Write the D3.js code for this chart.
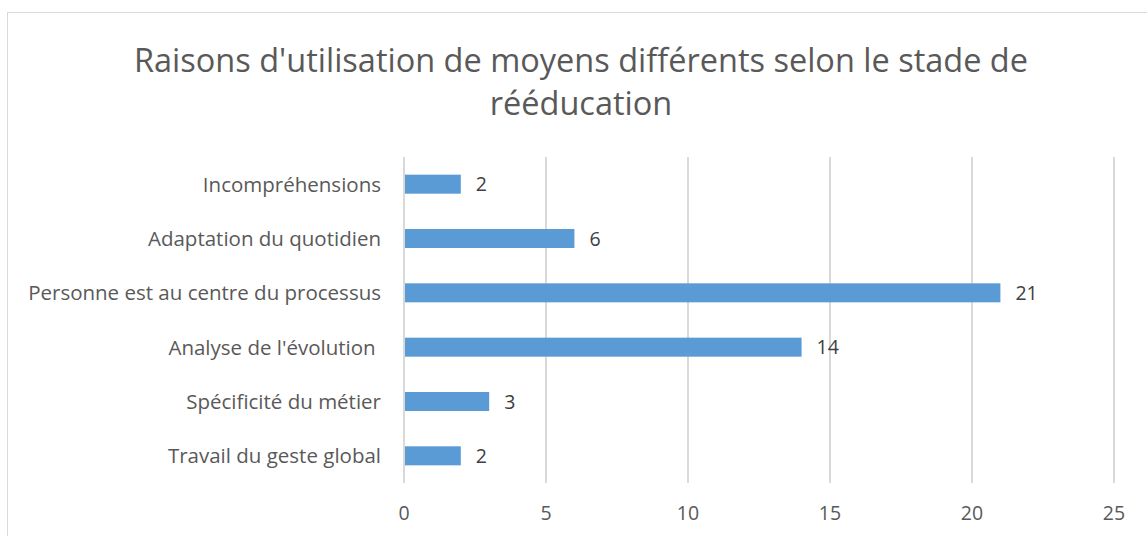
<!DOCTYPE html>
<html><head><meta charset="utf-8">
<script src="https://cdn.jsdelivr.net/npm/d3@7"></script>
<style>
body{margin:0;background:#fff;}
text{font-family:"Open Sans",sans-serif;}
</style></head>
<body><svg id="c" width="1147" height="536"></svg>
<script>
const categories = ["Incompréhensions","Adaptation du quotidien","Personne est au centre du processus","Analyse de l'évolution ","Spécificité du métier","Travail du geste global"];
const values = [2,6,21,14,3,2];
const ticks = [0,5,10,15,20,25];
const titleLines = ["Raisons d'utilisation de moyens différents selon le stade de","rééducation"];

const svg = d3.select("#c");
svg.append("rect").attr("x",7.5).attr("y",12.5).attr("width",1145).attr("height",530)
  .attr("fill","#fff").attr("stroke","#d9d9d9").attr("stroke-width",1);

const x = d3.scaleLinear().domain([0,25]).range([404,1114]);
const y = d3.scaleBand().domain(categories).range([157,483]).paddingInner(0.65).paddingOuter(0.325);

svg.append("g").selectAll("line").data(ticks).join("line")
  .attr("x1",d=>x(d)).attr("x2",d=>x(d)).attr("y1",157).attr("y2",483)
  .attr("stroke","#d9d9d9").attr("stroke-width",2);

svg.append("g").selectAll("rect").data(values).join("rect")
  .attr("x",x(0)+1).attr("y",(d,i)=>y(categories[i]))
  .attr("width",d=>x(d)-x(0)-1).attr("height",y.bandwidth())
  .attr("fill","#5b9bd5");

svg.append("g").selectAll("text").data(values).join("text")
  .attr("x",d=>x(d)+15).attr("y",(d,i)=>y(categories[i])+y.bandwidth()/2)
  .attr("dy","0.36em").attr("font-size",19.5).attr("fill","#404040").text(d=>d);

svg.append("g").selectAll("text").data(categories).join("text")
  .attr("x",381).attr("y",d=>y(d)+y.bandwidth()/2).attr("dy","0.36em")
  .attr("text-anchor","end").attr("font-size",20.5).attr("fill","#595959")
  .style("white-space","pre").text(d=>d);

svg.append("g").selectAll("text").data(ticks).join("text")
  .attr("x",d=>x(d)).attr("y",513).attr("dy","0.36em").attr("text-anchor","middle")
  .attr("font-size",19.5).attr("fill","#595959").text(d=>d);

svg.append("g").selectAll("text").data(titleLines).join("text")
  .attr("x",581).attr("y",(d,i)=>60+i*43).attr("dy","0.36em").attr("text-anchor","middle")
  .attr("font-size",32.5).attr("fill","#595959").text(d=>d);
</script></body></html>
